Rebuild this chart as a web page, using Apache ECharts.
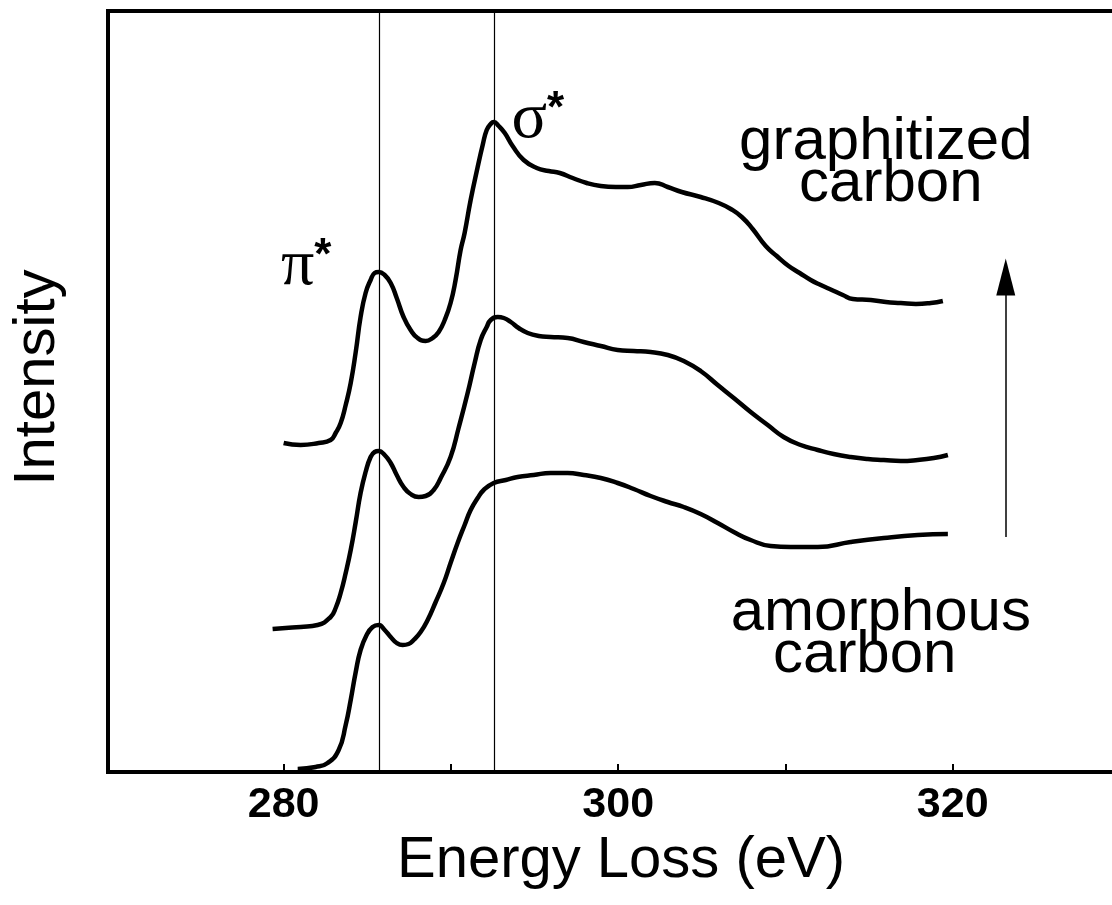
<!DOCTYPE html>
<html>
<head>
<meta charset="utf-8">
<script src="https://cdn.jsdelivr.net/npm/echarts@6/dist/echarts.min.js"></script>
<style>
  html, body { margin: 0; padding: 0; background: #fff; }
  #chart { width: 1112px; height: 905px; }
</style>
</head>
<body>
<div id="chart"></div>
<script>
// Carbon K-edge EELS spectra, stacked (amorphous at the bottom, graphitized at the top)
const energyAmorphous = [280.84, 281.91, 282.63, 283.29, 283.71, 284.01, 284.31, 284.60, 284.96, 285.32,
  285.68, 286.04, 286.40, 286.76, 287.12, 287.47, 287.77, 288.19, 288.61, 289.09,
  289.57, 289.98, 290.40, 290.82, 291.18, 291.60, 291.96, 292.56, 293.28, 293.99,
  294.95, 295.96, 296.98, 297.94, 298.96, 299.97, 300.93, 301.94, 302.96, 303.92,
  304.93, 305.95, 306.91, 307.92, 309.12, 310.31, 311.93, 313.90, 315.88, 317.91, 319.71];
const intensityAmorphous = [0.03, 0.05, 0.09, 0.22, 0.47, 0.72, 1.00, 1.22, 1.37, 1.45,
  1.47, 1.42, 1.35, 1.29, 1.27, 1.28, 1.32, 1.40, 1.52, 1.70,
  1.89, 2.09, 2.29, 2.47, 2.62, 2.74, 2.82, 2.89, 2.92, 2.95,
  2.97, 2.99, 2.99, 2.97, 2.94, 2.89, 2.83, 2.76, 2.70, 2.65,
  2.58, 2.49, 2.40, 2.32, 2.26, 2.25, 2.25, 2.30, 2.34, 2.37, 2.38];

const energyIntermediate = [279.34, 280.12, 281.02, 282.03, 282.81, 283.11, 283.41, 283.71, 284.01, 284.31,
  284.60, 284.90, 285.20, 285.44, 285.68, 286.04, 286.40, 286.76, 287.17, 287.59,
  288.07, 288.49, 288.97, 289.39, 289.98, 290.46, 291.00, 291.42, 291.78, 292.14,
  292.38, 292.80, 293.16, 293.58, 294.05, 294.59, 295.25, 295.96, 296.98, 297.94,
  298.96, 299.97, 300.93, 301.94, 302.96, 303.92, 304.93, 305.95, 306.91, 307.92,
  308.94, 309.89, 310.91, 311.93, 312.88, 313.90, 314.92, 315.88, 316.90, 317.91,
  318.87, 319.71];
const intensityIntermediate = [1.43, 1.44, 1.45, 1.47, 1.55, 1.64, 1.79, 1.99, 2.22, 2.50,
  2.79, 3.00, 3.15, 3.20, 3.21, 3.17, 3.09, 2.97, 2.85, 2.78,
  2.75, 2.76, 2.82, 2.94, 3.15, 3.44, 3.79, 4.09, 4.32, 4.45,
  4.52, 4.55, 4.54, 4.50, 4.44, 4.39, 4.36, 4.35, 4.34, 4.30,
  4.26, 4.22, 4.21, 4.20, 4.17, 4.11, 4.01, 3.87, 3.74, 3.60,
  3.47, 3.35, 3.27, 3.22, 3.18, 3.15, 3.13, 3.12, 3.11, 3.12,
  3.14, 3.17];

const energyGraphitized = [280.00, 281.02, 282.09, 282.81, 283.11, 283.41, 283.71, 284.01, 284.31, 284.60,
  284.90, 285.20, 285.44, 285.68, 286.04, 286.40, 286.76, 287.17, 287.59, 288.01,
  288.49, 288.91, 289.27, 289.63, 289.98, 290.28, 290.58, 290.82, 291.18, 291.60,
  291.90, 292.14, 292.38, 292.56, 292.86, 293.22, 293.69, 294.35, 295.13, 295.85,
  296.51, 297.28, 298.12, 298.96, 299.86, 300.57, 301.35, 302.19, 302.96, 303.80,
  304.93, 306.01, 306.73, 307.39, 308.04, 308.82, 309.48, 310.19, 310.85, 311.51,
  312.11, 312.77, 313.43, 314.03, 315.10, 316.00, 316.90, 317.80, 318.69, 319.41];
const intensityGraphitized = [3.29, 3.27, 3.29, 3.32, 3.39, 3.49, 3.67, 3.89, 4.20, 4.55,
  4.79, 4.92, 4.99, 5.00, 4.97, 4.89, 4.74, 4.55, 4.42, 4.34,
  4.31, 4.34, 4.40, 4.52, 4.69, 4.92, 5.22, 5.39, 5.72, 6.05,
  6.27, 6.42, 6.48, 6.50, 6.46, 6.39, 6.26, 6.12, 6.04, 6.01,
  5.99, 5.94, 5.89, 5.86, 5.85, 5.85, 5.87, 5.89, 5.85, 5.80,
  5.75, 5.69, 5.63, 5.55, 5.43, 5.26, 5.16, 5.06, 4.99, 4.92,
  4.87, 4.82, 4.77, 4.73, 4.72, 4.70, 4.69, 4.68, 4.69, 4.71];

// Edge positions (eV) marked with vertical lines
const piStarEnergy = 285.7;
const sigmaStarEnergy = 292.6;

// Axis ticks and labels
const tickValues = [280, 290, 300, 310, 320];
const labelValues = [280, 300, 320];

// Trend arrow (amorphous -> graphitized)
const arrowEnergy = 323.17;
const arrowFrom = 2.35;
const arrowTo = 4.95;

const zip = (xs, ys) => xs.map((x, i) => [x, ys[i]]);

const SANS = '"Liberation Sans", Arial, Helvetica, sans-serif';
const SERIF = '"Liberation Serif", "Times New Roman", serif';

function textPoint(coord, formatter, extra) {
  return {
    coord: coord,
    symbol: 'circle',
    symbolSize: 0,
    label: Object.assign({
      show: true,
      position: 'inside',
      formatter: formatter,
      color: '#000',
      fontFamily: SANS,
      fontSize: 60
    }, extra || {})
  };
}

const starRich = {
  p: { fontFamily: SERIF, fontSize: 66, lineHeight: 64, color: '#000' },
  s: { fontFamily: SANS, fontSize: 44, fontWeight: 'bold', lineHeight: 64, verticalAlign: 'top', color: '#000' }
};

const chart = echarts.init(document.getElementById('chart'), null, { renderer: 'canvas' });

const lineBase = {
  type: 'line',
  showSymbol: false,
  smooth: 0.5,
  silent: true,
  lineStyle: { color: '#000', width: 4.5 },
  itemStyle: { color: '#000' }
};

chart.setOption({
  animation: false,
  backgroundColor: '#fff',
  grid: {
    left: 108, right: -8, top: 11, bottom: 133,
    outerBoundsMode: 'none',
    containLabel: false,
    show: true, borderColor: '#000', borderWidth: 4, backgroundColor: 'transparent'
  },
  xAxis: [{
    type: 'value',
    min: 269.5,
    max: 330,
    name: 'Energy Loss (eV)',
    nameLocation: 'middle',
    nameGap: 56,
    nameTextStyle: { fontFamily: SANS, fontSize: 58, color: '#000', padding: [0, 0, 0, 14] },
    axisLine: { show: true, lineStyle: { color: '#000', width: 4 } },
    axisTick: { show: true, inside: true, length: 8, customValues: tickValues,
      lineStyle: { color: '#000', width: 2 } },
    axisLabel: { show: true, customValues: labelValues, margin: 12,
      fontFamily: SANS, fontWeight: 'bold', fontSize: 43, color: '#000' },
    splitLine: { show: false }
  }],
  yAxis: [{
    type: 'value',
    min: 0,
    max: 7.61,
    name: 'Intensity',
    nameLocation: 'middle',
    nameRotate: 90,
    nameGap: 41,
    nameTextStyle: { fontFamily: SANS, fontSize: 58, color: '#000', padding: [0, 0, 0, 28] },
    axisLine: { show: true, lineStyle: { color: '#000', width: 3.5 } },
    axisTick: { show: false },
    axisLabel: { show: false },
    splitLine: { show: false }
  }],
  series: [
    Object.assign({}, lineBase, {
      name: 'amorphous carbon',
      data: zip(energyAmorphous, intensityAmorphous),
      markLine: {
        silent: true,
        symbol: ['none', 'none'],
        label: { show: false },
        lineStyle: { color: '#000', width: 1.2, type: 'solid' },
        data: [{ xAxis: piStarEnergy }, { xAxis: sigmaStarEnergy }]
      }
    }),
    Object.assign({}, lineBase, {
      name: 'intermediate',
      data: zip(energyIntermediate, intensityIntermediate),
      markLine: {
        silent: true,
        label: { show: false },
        lineStyle: { color: '#000', width: 1.5, type: 'solid' },
        data: [[
          { coord: [arrowEnergy, arrowFrom], symbol: 'none' },
          { coord: [arrowEnergy, arrowTo], symbol: 'triangle', symbolSize: [19, 37] }
        ]]
      }
    }),
    Object.assign({}, lineBase, {
      name: 'graphitized carbon',
      data: zip(energyGraphitized, intensityGraphitized),
      markPoint: {
        silent: true,
        data: [
          textPoint([281.35, 5.05], '{p|π}{s|*}', { rich: starRich }),
          textPoint([295.2, 6.52], '{p|σ}{s|*}', { rich: starRich }),
          textPoint([316.0, 6.30], 'graphitized'),
          textPoint([316.3, 5.88], 'carbon'),
          textPoint([315.7, 1.59], 'amorphous'),
          textPoint([314.74, 1.17], 'carbon')
        ]
      }
    })
  ]
});
</script>
</body>
</html>
